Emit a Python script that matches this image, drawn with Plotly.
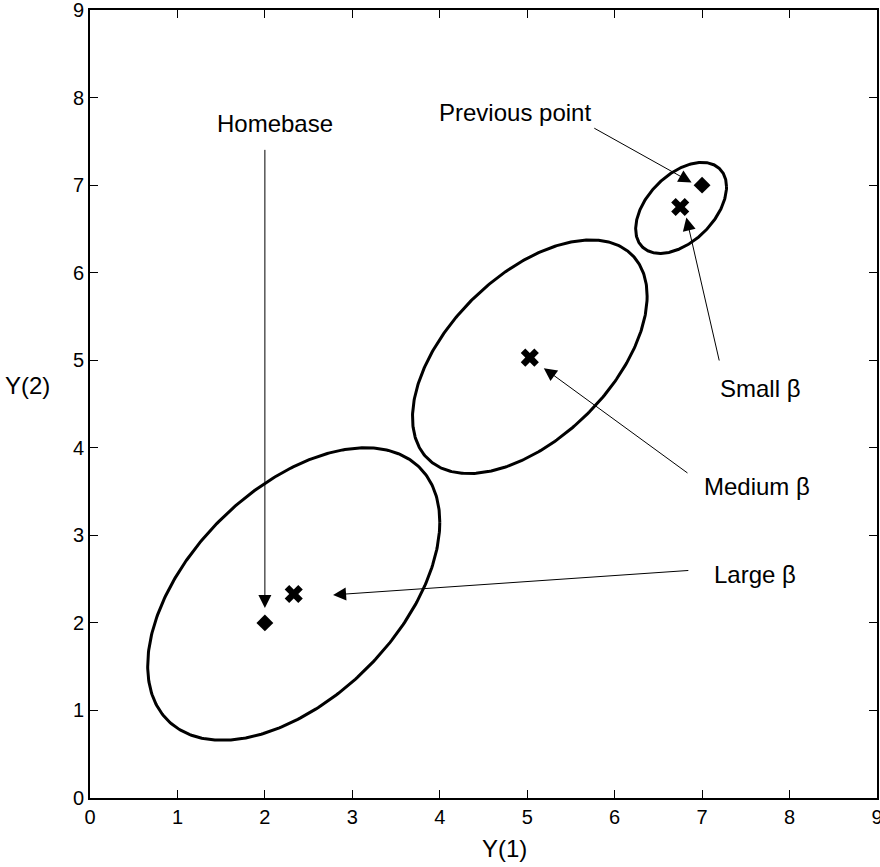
import numpy as np
import plotly.graph_objects as go

# Ellipse parameters (center x, center y, var_x, var_y, cov_xy)
ell_names = ["Large", "Medium", "Small"]
ell_cx = [2.33, 5.03, 6.76]
ell_cy = [2.33, 5.04, 6.74]
ell_vx = [2.79, 1.80, 0.27]
ell_vy = [2.79, 1.78, 0.27]
ell_cxy = [1.37, 0.93, 0.125]

# Point markers
diamond_x = [2.0, 7.0]
diamond_y = [2.0, 7.0]
cross_x = [2.33, 5.03, 6.75]
cross_y = [2.33, 5.03, 6.75]

# Labels and arrows: text, text position, arrow tail, arrow head
labels = ["Homebase", "Previous point", "Small β", "Medium β", "Large β"]
label_x = [2.12, 4.86, 7.66, 7.63, 7.60]
label_y = [7.70, 7.83, 4.68, 3.56, 2.55]
tail_x = [2.0, 5.75, 7.20, 6.85, 6.86]
tail_y = [7.42, 7.66, 4.98, 3.70, 2.60]
head_x = [2.0, 6.88, 6.82, 5.19, 2.78]
head_y = [2.17, 7.03, 6.63, 4.91, 2.32]

xticks = list(range(0, 10))
yticks = list(range(0, 10))

fig = go.Figure()

t = np.linspace(0, 2 * np.pi, 400)
for cx, cy, vx, vy, cxy in zip(ell_cx, ell_cy, ell_vx, ell_vy, ell_cxy):
    cov = np.array([[vx, cxy], [cxy, vy]])
    L = np.linalg.cholesky(cov)
    pts = L @ np.vstack([np.cos(t), np.sin(t)])
    fig.add_trace(go.Scatter(x=cx + pts[0], y=cy + pts[1], mode="lines",
                             line=dict(color="black", width=3), hoverinfo="skip"))

fig.add_trace(go.Scatter(x=diamond_x, y=diamond_y, mode="markers",
                         marker=dict(symbol="diamond", size=13, color="black")))
fig.add_trace(go.Scatter(x=cross_x, y=cross_y, mode="markers",
                         marker=dict(symbol="x", size=16, color="black")))

font = "Liberation Sans, Arial, Helvetica, sans-serif"
for txt, lx, ly, tx, ty, hx, hy in zip(labels, label_x, label_y, tail_x, tail_y, head_x, head_y):
    fig.add_annotation(x=lx, y=ly, xref="x", yref="y", text=txt, showarrow=False,
                       xanchor="center", yanchor="middle",
                       font=dict(size=24, color="black", family=font))
    fig.add_annotation(x=hx, y=hy, ax=tx, ay=ty, xref="x", yref="y", axref="x", ayref="y",
                       text="", showarrow=True, arrowhead=2, arrowsize=2.6,
                       arrowwidth=1, arrowcolor="black")

axis_common = dict(range=[0, 9.0005], showgrid=False, zeroline=False, showline=True,
                   linecolor="black", linewidth=2, mirror="ticks", ticks="inside",
                   ticklen=8, tickwidth=1, tickcolor="black",
                   ticklabeloverflow="allow", automargin=False,
                   tickfont=dict(size=20, color="black", family=font))

fig.update_layout(
    width=880, height=867,
    margin=dict(l=90, r=3, t=10, b=69),
    plot_bgcolor="white", paper_bgcolor="white",
    showlegend=False,
    xaxis=dict(**axis_common, tickvals=xticks, ticktext=[str(v) for v in xticks]),
    yaxis=dict(**axis_common, tickvals=yticks, ticktext=[str(v) for v in yticks]),
)
# axis titles as annotations (Y(2) horizontal)
fig.add_annotation(x=-0.080, y=0.524, xref="paper", yref="paper", text="Y(2)",
                   xanchor="center", yanchor="middle",
                   showarrow=False, font=dict(size=24, color="black", family=font))
fig.add_annotation(x=0.527, y=-0.0635, xref="paper", yref="paper", text="Y(1)",
                   xanchor="center", yanchor="middle",
                   showarrow=False, font=dict(size=24, color="black", family=font))

fig.write_html("out.html")
